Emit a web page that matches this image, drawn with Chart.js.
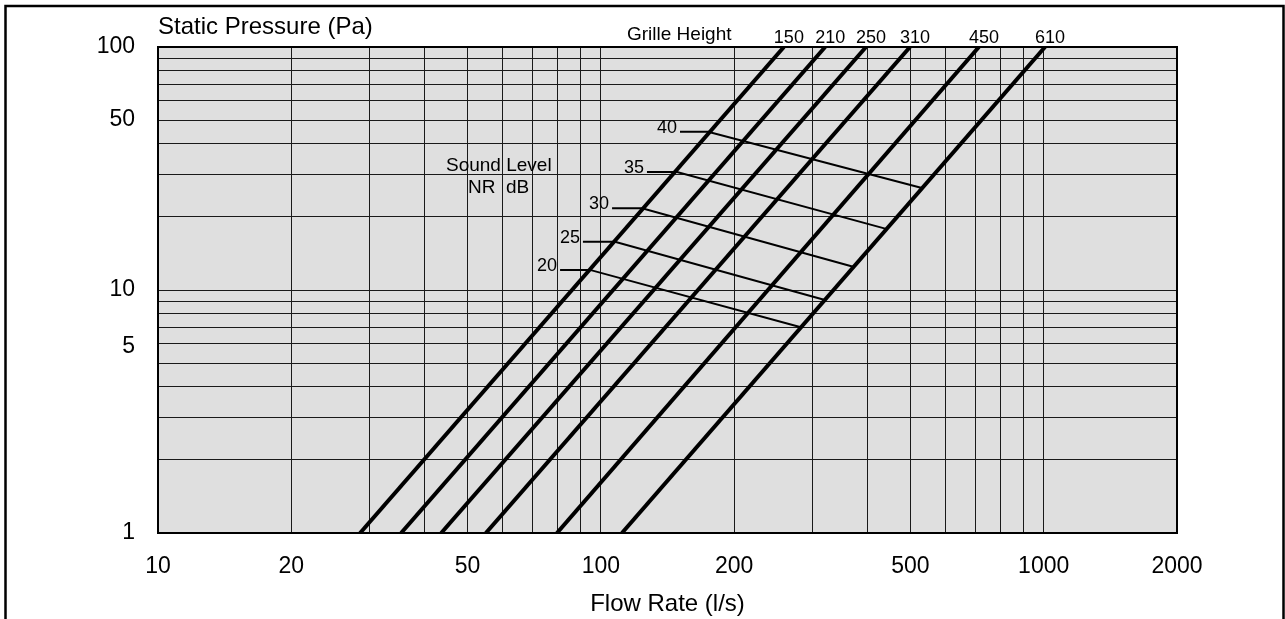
<!DOCTYPE html>
<html>
<head>
<meta charset="utf-8">
<title>Grille Height - Static Pressure / Flow Rate</title>
<script src="https://cdn.jsdelivr.net/npm/chart.js"></script>
<style>
body{margin:0;background:#fff;}
#wrap{position:relative;width:1285px;height:619px;}
</style>
</head>
<body>
<div id="wrap"><canvas id="graph_data"></canvas></div>
<script>
// grille lines, flow read where each line meets 1 Pa and 100 Pa
const grilleHeights = [150, 210, 250, 310, 450, 610];
const grilleFlowLow = [28.6, 35.4, 43.6, 55.0, 79.6, 111.6];
const grilleFlowHigh = [259, 321, 397, 499, 714, 1007];
const pressureEnds = [1, 100];

// NR sound level lines (label leader, start on 150 line, end on 610 line)
const soundLevels = [20, 25, 30, 35, 40];
const soundLabelFlow = [80.9, 91.1, 106.0, 127.1, 150.9];
const soundStartFlow = [94.5, 107.6, 123.9, 148.6, 174.6];
const soundStartPa = [12.1, 15.8, 21.7, 30.6, 44.8];
const soundEndFlow = [281.6, 320.7, 374.9, 442.9, 531];
const soundEndPa = [7.04, 9.1, 12.4, 17.8, 26.3];

// axes
const xRange = [10, 2000];
const yRange = [1, 100];
const xTickLabels = [10, 20, 50, 100, 200, 500, 1000, 2000];
const yTickLabels = [1, 5, 10, 50, 100];
const yRaisedLabels = [5];

const FONT = "'Liberation Sans', Arial, Helvetica, sans-serif";

// 1,2,..9 x 10^n grid between min and max
function logGrid(min, max){
    var out = [];
    for(var e = Math.floor(Math.log10(min)); Math.pow(10, e) <= max; e++){
        for(var m = 1; m < 10; m++){
            var v = m * Math.pow(10, e);
            if(v >= min && v <= max){
                out.push({value: v});
            }
        }
    }
    return out;
}

function buildDatasets(){
    var sets = [];
    for(var i = 0; i < grilleHeights.length; i++){
        sets.push({
            label: 'Grille ' + grilleHeights[i],
            data: [
                {x: grilleFlowLow[i], y: pressureEnds[0]},
                {x: grilleFlowHigh[i], y: pressureEnds[1]}
            ],
            borderColor: '#000',
            borderWidth: 4,
            pointRadius: 0,
            showLine: true
        });
    }
    for(var j = 0; j < soundLevels.length; j++){
        sets.push({
            label: 'NR ' + soundLevels[j],
            data: [
                {x: soundLabelFlow[j], y: soundStartPa[j]},
                {x: soundStartFlow[j], y: soundStartPa[j]},
                {x: soundEndFlow[j], y: soundEndPa[j]}
            ],
            borderColor: '#000',
            borderWidth: 2,
            pointRadius: 0,
            showLine: true
        });
    }
    return sets;
}

const chartDecor = {
    id: 'chartDecor',
    beforeDraw(chart){
        const {ctx, chartArea: a} = chart;
        ctx.save();
        ctx.fillStyle = '#dfdfdf';
        ctx.fillRect(a.left, a.top, a.right - a.left, a.bottom - a.top);
        ctx.restore();
    },
    afterDatasetsDraw(chart){
        const {ctx, chartArea: a} = chart;
        const xs = chart.scales.x;
        const ys = chart.scales.y;
        ctx.save();

        // plot frame
        ctx.strokeStyle = '#000';
        ctx.lineWidth = 2;
        ctx.strokeRect(a.left, a.top, a.right - a.left, a.bottom - a.top);

        // outer box
        ctx.lineWidth = 2.5;
        ctx.beginPath();
        ctx.moveTo(5.5, 619);
        ctx.lineTo(5.5, 6);
        ctx.lineTo(1283.5, 6);
        ctx.lineTo(1283.5, 619);
        ctx.stroke();

        ctx.fillStyle = '#000';
        ctx.textBaseline = 'alphabetic';

        ctx.textAlign = 'left';
        ctx.font = '24px ' + FONT;
        ctx.fillText('Static Pressure (Pa)', a.left, 33.5);

        ctx.font = '19px ' + FONT;
        ctx.fillText('Grille Height', 627, 40);
        ctx.fillText('Sound Level', 446, 170.5);
        ctx.fillText('NR', 468, 192.5);
        ctx.fillText('dB', 506, 192.5);

        ctx.font = '18px ' + FONT;
        ctx.textAlign = 'center';
        for(var i = 0; i < grilleHeights.length; i++){
            ctx.fillText(String(grilleHeights[i]), xs.getPixelForValue(grilleFlowHigh[i]) + 5, 43);
        }
        ctx.textAlign = 'right';
        for(var j = 0; j < soundLevels.length; j++){
            ctx.fillText(String(soundLevels[j]), xs.getPixelForValue(soundLabelFlow[j]) - 3, ys.getPixelForValue(soundStartPa[j]) + 1);
        }
        ctx.restore();
    }
};

function graph(){
    const data = {
        datasets: buildDatasets()
    };

    const cfg = {
        type: 'scatter',
        data: data,
        options: {
            responsive: true,
            maintainAspectRatio: false,
            animation: false,
            layout: {
                padding: {left: 0, top: 47, right: 108, bottom: 0}
            },
            plugins: {
                legend: {display: false},
                tooltip: {enabled: false}
            },
            scales: {
                x: {
                    type: 'logarithmic',
                    min: xRange[0],
                    max: xRange[1],
                    afterBuildTicks: function(scale){
                        scale.ticks = logGrid(scale.min, scale.max);
                    },
                    afterFit: function(scale){
                        scale.height = 86;
                    },
                    grid: {color: '#1a1a1a', lineWidth: 1, drawTicks: false},
                    border: {display: true, color: '#000', width: 2},
                    ticks: {
                        autoSkip: false,
                        maxRotation: 0,
                        padding: 20,
                        color: '#000',
                        font: {family: FONT, size: 23},
                        callback: function(value){
                            return xTickLabels.indexOf(value) >= 0 ? String(value) : '';
                        }
                    },
                    title: {
                        display: true,
                        text: 'Flow Rate (l/s)',
                        color: '#000',
                        font: {family: FONT, size: 24},
                        padding: {top: 0, bottom: 0}
                    }
                },
                y: {
                    type: 'logarithmic',
                    min: yRange[0],
                    max: yRange[1],
                    afterBuildTicks: function(scale){
                        scale.ticks = logGrid(scale.min, scale.max);
                    },
                    afterFit: function(scale){
                        scale.width = 158;
                    },
                    grid: {color: '#1a1a1a', lineWidth: 1, drawTicks: false},
                    border: {display: true, color: '#000', width: 2},
                    ticks: {
                        autoSkip: false,
                        padding: 23,
                        color: '#000',
                        font: {family: FONT, size: 23, lineHeight: 1.4},
                        callback: function(value){
                            if(yTickLabels.indexOf(value) < 0) return '';
                            // the 5 sits a little high on the original
                            if(yRaisedLabels.indexOf(value) >= 0) return [String(value), ''];
                            return String(value);
                        }
                    }
                }
            }
        },
        plugins: [chartDecor]
    };

    var ctx = document.getElementById('graph_data');
    chart = new Chart(ctx, cfg);
}

graph();
</script>
</body>
</html>
